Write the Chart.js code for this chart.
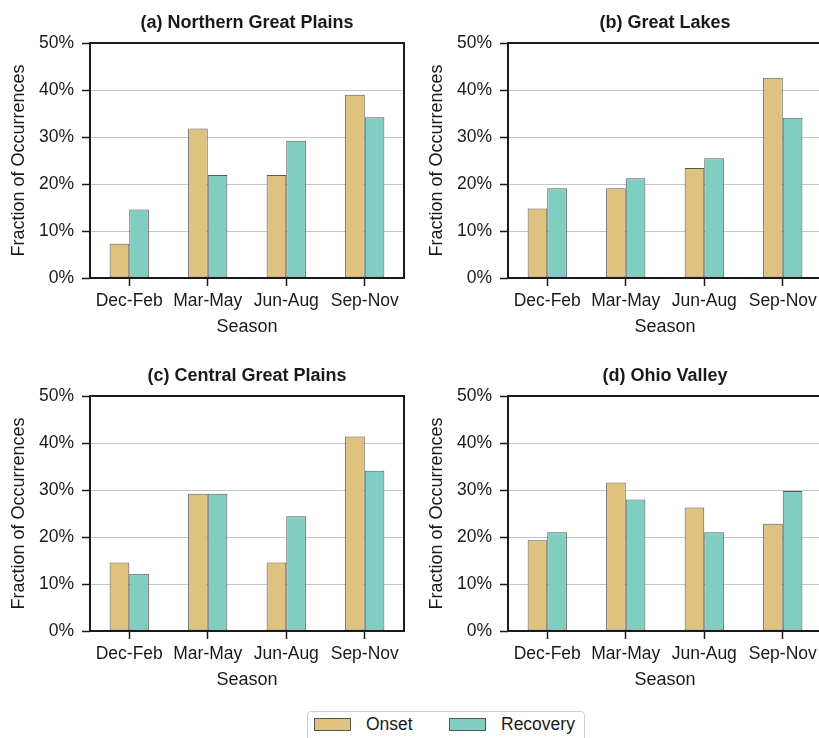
<!DOCTYPE html>
<html>
<head>
<meta charset="utf-8">
<script src="https://cdn.jsdelivr.net/npm/chart.js@4.4.1/dist/chart.umd.min.js"></script>
<style>
    html, body { margin: 0; padding: 0; background: #fff; overflow: hidden; }
    #page { position: relative; width: 819px; height: 738px; overflow: hidden; font-family: "Liberation Sans", Arial, sans-serif; }
    .panel { position: absolute; }
    .legend { position: absolute; left: 307px; top: 711px; width: 278px; height: 40px; border: 1px solid #cfcfcf; border-radius: 4px; background: #fff; box-sizing: border-box; }
    .swatch { position: absolute; top: 6px; width: 37px; height: 13px; box-sizing: border-box; border: 1px solid #555; }
    .lbl { position: absolute; top: 2px; font-size: 17.5px; line-height: 20px; color: #1a1a1a; }
</style>
</head>
<body>
<div id="page">
    <canvas id="chart-a" class="panel" width="410" height="345" style="left:0px;top:0px"></canvas>
    <canvas id="chart-b" class="panel" width="410" height="345" style="left:418px;top:0px"></canvas>
    <canvas id="chart-c" class="panel" width="410" height="345" style="left:0px;top:353px"></canvas>
    <canvas id="chart-d" class="panel" width="410" height="345" style="left:418px;top:353px"></canvas>
    <div class="legend">
        <div class="swatch" style="left:6px;background:#dfc27d"></div>
        <span class="lbl" style="left:58px">Onset</span>
        <div class="swatch" style="left:141px;background:#80cdc1"></div>
        <span class="lbl" style="left:193px">Recovery</span>
    </div>
</div>
<script>
// values in percent
const seasons = ['Dec-Feb', 'Mar-May', 'Jun-Aug', 'Sep-Nov'];

const onsetNGP = [7.3, 31.8, 21.9, 39.0];
const recoveryNGP = [14.6, 21.9, 29.2, 34.2];

const onsetGL = [14.8, 19.1, 23.4, 42.6];
const recoveryGL = [19.1, 21.2, 25.5, 34.1];

const onsetCGP = [14.6, 29.2, 14.6, 41.4];
const recoveryCGP = [12.2, 29.2, 24.4, 34.1];

const onsetOV = [19.3, 31.6, 26.3, 22.8];
const recoveryOV = [21.0, 28.0, 21.0, 29.8];

const FONT = '"Liberation Sans", Arial, sans-serif';
const TEXT = '#1a1a1a';

Chart.defaults.font.family = FONT;
Chart.defaults.color = TEXT;

// matplotlib-style box round the plot area
const framePlugin = {
    id: 'frame',
    afterDraw(chart) {
        const { ctx, chartArea: a } = chart;
        ctx.save();
        ctx.strokeStyle = '#1a1a1a';
        ctx.lineWidth = 2;
        ctx.strokeRect(a.left, a.top, a.right - a.left, a.bottom - a.top);
        ctx.restore();
    }
};

function makePanel(id, title, onset, recovery) {
    const ctx = document.getElementById(id);
    return new Chart(ctx, {
        type: 'bar',
        data: {
            labels: seasons,
            datasets: [{
                label: 'Onset',
                data: onset,
                backgroundColor: '#dfc27d',
                borderColor: 'rgba(60,60,60,0.85)',
                borderWidth: 1,
                borderSkipped: false,
                categoryPercentage: 0.5,
                barPercentage: 1.0
            }, {
                label: 'Recovery',
                data: recovery,
                backgroundColor: '#80cdc1',
                borderColor: 'rgba(60,60,60,0.85)',
                borderWidth: 1,
                borderSkipped: false,
                categoryPercentage: 0.5,
                barPercentage: 1.0
            }]
        },
        options: {
            responsive: false,
            animation: false,
            devicePixelRatio: 1,
            layout: { padding: { left: 0, right: 6, top: 0, bottom: 0 } },
            plugins: {
                legend: { display: false },
                tooltip: { enabled: false },
                title: {
                    display: true,
                    text: title,
                    fullSize: false,
                    color: TEXT,
                    font: { size: 18, weight: 'bold' },
                    padding: { top: 12, bottom: 9.4 }
                }
            },
            scales: {
                x: {
                    ticks: { font: { size: 17.5 }, color: TEXT, padding: 5, maxRotation: 0, autoSkip: false },
                    grid: { drawOnChartArea: false, offset: false, tickColor: '#1a1a1a', tickLength: 8, tickWidth: 1.5 },
                    border: { display: false },
                    title: { display: true, text: 'Season', color: TEXT, font: { size: 18 }, padding: { top: 0, bottom: 7 } },
                    afterFit(scale) { scale.height = 67; }
                },
                y: {
                    min: 0,
                    max: 50,
                    ticks: { stepSize: 10, callback: v => v + '%', font: { size: 17.5 }, color: TEXT, padding: 8 },
                    grid: { color: '#c6c6c6', lineWidth: 1, tickColor: '#1a1a1a', tickLength: 8, tickWidth: 1.5 },
                    border: { display: false },
                    title: { display: true, text: 'Fraction of Occurrences', color: TEXT, font: { size: 18 }, padding: { top: 8, bottom: 0 } },
                    afterFit(scale) { scale.width = 90; }
                }
            }
        },
        plugins: [framePlugin]
    });
}

makePanel('chart-a', '(a) Northern Great Plains', onsetNGP, recoveryNGP);
makePanel('chart-b', '(b) Great Lakes', onsetGL, recoveryGL);
makePanel('chart-c', '(c) Central Great Plains', onsetCGP, recoveryCGP);
makePanel('chart-d', '(d) Ohio Valley', onsetOV, recoveryOV);
</script>
</body>
</html>
